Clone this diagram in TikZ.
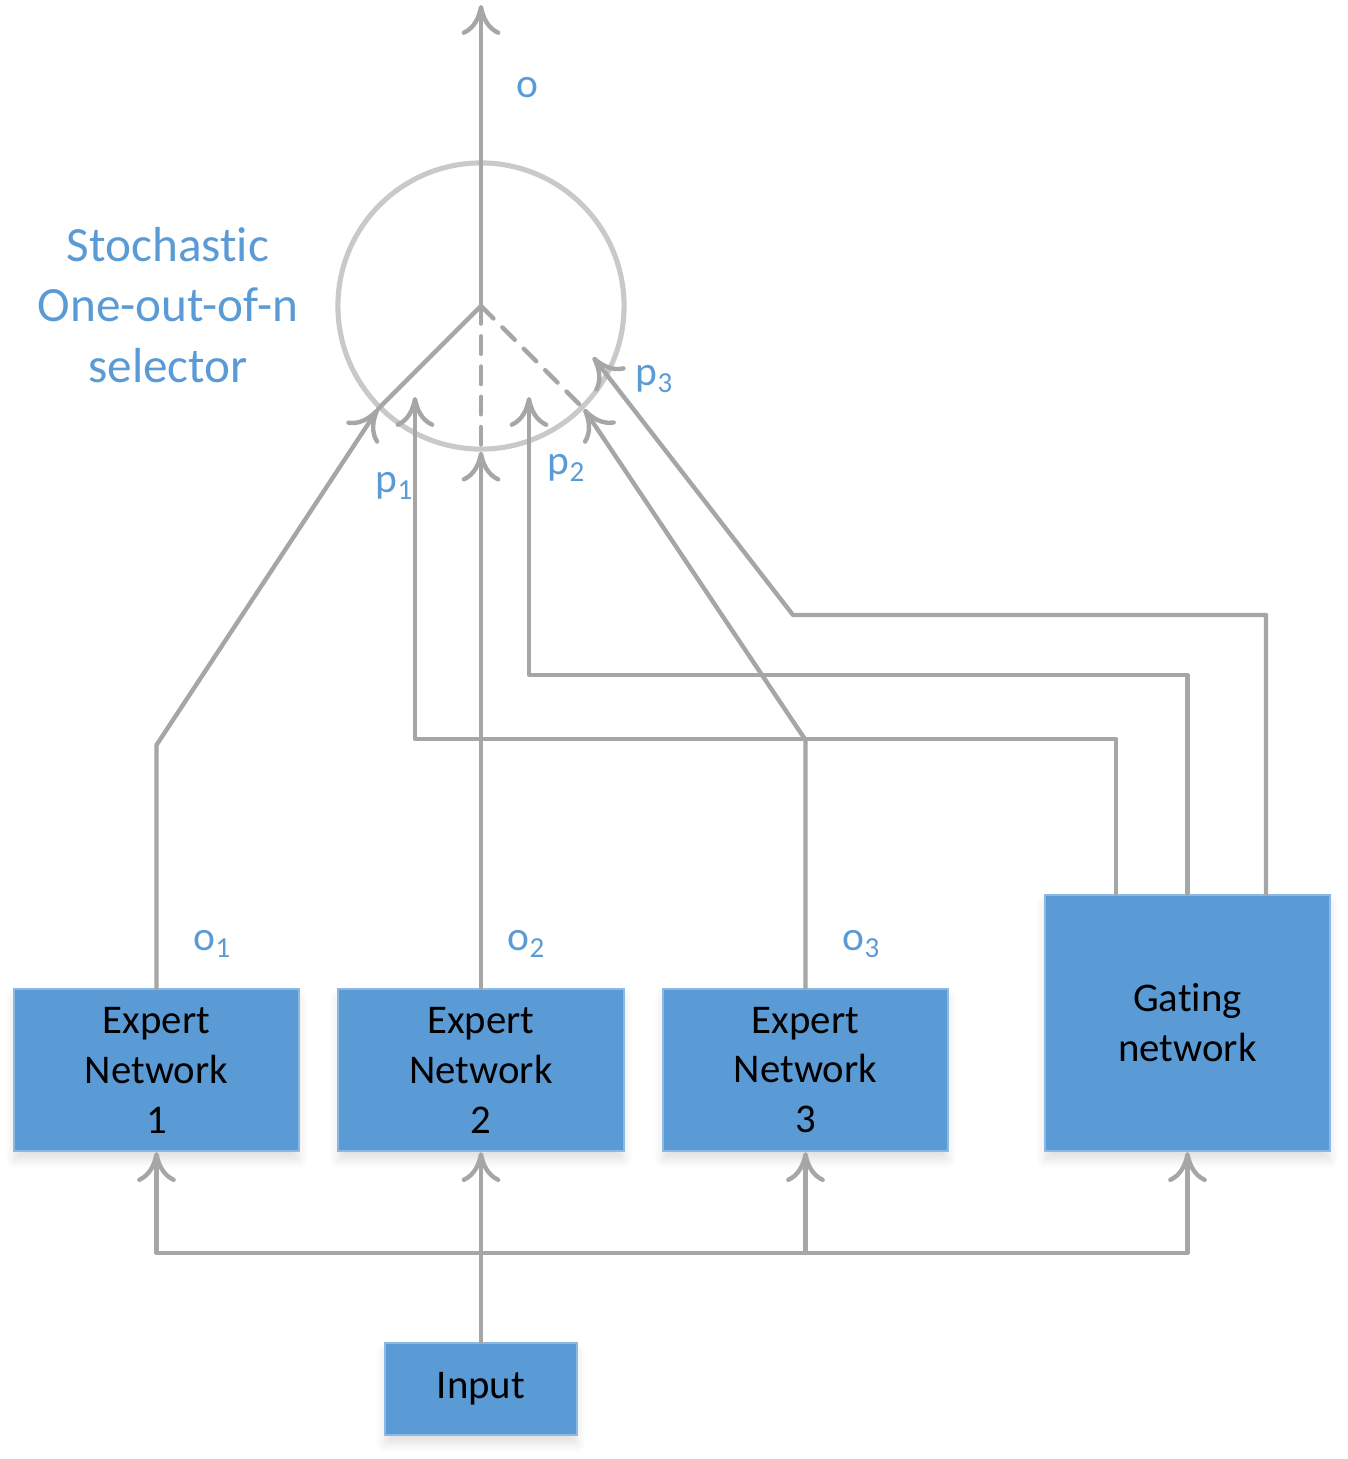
\documentclass[tikz,border=0pt]{standalone}
\usepackage{fontspec}
\setmainfont{Carlito}[Ligatures=NoCommon]
\usetikzlibrary{arrows.meta,shadows.blur}

\definecolor{boxblue}{HTML}{5B9BD5}
\definecolor{boxedge}{HTML}{8DB8E3}
\definecolor{linkgray}{HTML}{A6A6A6}
\definecolor{ringgray}{HTML}{C9C9C9}

\tikzset{
    netbox/.style={draw=boxedge, line width=0.6pt, fill=boxblue, align=center,
        text=black, font=\fontsize{11.6}{14.2}\selectfont,
        blur shadow={shadow xshift=0pt, shadow yshift=-2.5pt, shadow opacity=12, shadow blur steps=6, shadow blur radius=2.5pt}},
    link/.style={draw=linkgray, line width=1.25pt, line cap=round, line join=round,
        -{Computer Modern Rightarrow[length=8.5pt, width=11pt]}},
    plainlink/.style={draw=linkgray, line width=1.25pt, line cap=round},
    lbl/.style={text=boxblue, font=\fontsize{11.8}{14}\selectfont, inner sep=0pt}
}

\begin{document}
\begin{tikzpicture}[x=0.01cm, y=-0.01cm]
    \useasboundingbox (0,0) rectangle (1347,1459);

    % The selector ring and its label
    \node[draw=ringgray, line width=1.45pt, circle, minimum size=2.86cm, inner sep=0pt] (sel) at (481,306) {};
    \node[text=boxblue, align=center, font=\fontsize{14}{17.1}\selectfont] (seltxt) at (168,305) {Stochastic\\One-out-of-n\\selector};

    % The boxes
    \node[netbox, minimum width=2.85cm, minimum height=1.62cm] (e1) at (156.5,1070) {Expert\\Network\\1};
    \node[netbox, minimum width=2.85cm, minimum height=1.62cm] (e2) at (481,1070) {Expert\\Network\\2};
    \node[netbox, minimum width=2.85cm, minimum height=1.62cm] (e3) at (805.5,1070) {Expert\\Network\\3};
    \node[netbox, minimum width=2.85cm, minimum height=2.56cm] (gate) at (1187.5,1023) {Gating\\network};
    \node[netbox, minimum width=1.92cm, minimum height=0.92cm] (in) at (481,1389) {Input};

    % Free ends of the connectors
    \coordinate (out) at (481,5);
    \coordinate (p1end) at (415,397);
    \coordinate (p2end) at (529,397);
    \coordinate (p3end) at (593,357);

    % Inside the ring: the chosen path and the others dashed
    \draw[plainlink] (sel.center) -- (sel.225);
    \draw[plainlink, dash pattern=on 5pt off 3.6pt] (sel.center) -- (sel.270);
    \draw[plainlink, dash pattern=on 5pt off 3.6pt] (sel.center) -- (sel.315);
    \draw[link] (sel.center) -- (out);

    % Input to the networks
    \draw[link] (in.north) -- (e2.south);
    \draw[link, {Computer Modern Rightarrow[length=8.5pt, width=11pt]}-{Computer Modern Rightarrow[length=8.5pt, width=11pt]}]
        (e1.south) -- (e1.south |- 0,1253) -- (gate.south |- 0,1253) -- (gate.south);
    \draw[link] (e3.south |- 0,1253) -- (e3.south);

    % Expert outputs into the ring
    \draw[link] (e1.north) -- (e1.north |- 0,745) -- (sel.225);
    \draw[link] (e2.north) -- (sel.south);
    \draw[link] (e3.north) -- (e3.north |- 0,740) -- (sel.315);

    % Gating outputs into the ring
    \draw[link] (1116,0 |- gate.north) -- (1116,739) -- (415,739) -- (p1end);
    \draw[link] (gate.north) -- (1187.5,675) -- (529,675) -- (p2end);
    \draw[link] (1266,0 |- gate.north) -- (1266,615) -- (793,615) -- (p3end);

    % Labels of the signals
    \node[lbl] (lo) at (527,88) {o};
    \node[lbl] (lo1) at (213,944) {o\textsubscript{1}};
    \node[lbl] (lo2) at (527,944) {o\textsubscript{2}};
    \node[lbl] (lo3) at (862,944) {o\textsubscript{3}};
    \node[lbl] (lp1) at (395,486) {p\textsubscript{1}};
    \node[lbl] (lp2) at (567,468) {p\textsubscript{2}};
    \node[lbl] (lp3) at (655,379) {p\textsubscript{3}};
\end{tikzpicture}
\end{document}
